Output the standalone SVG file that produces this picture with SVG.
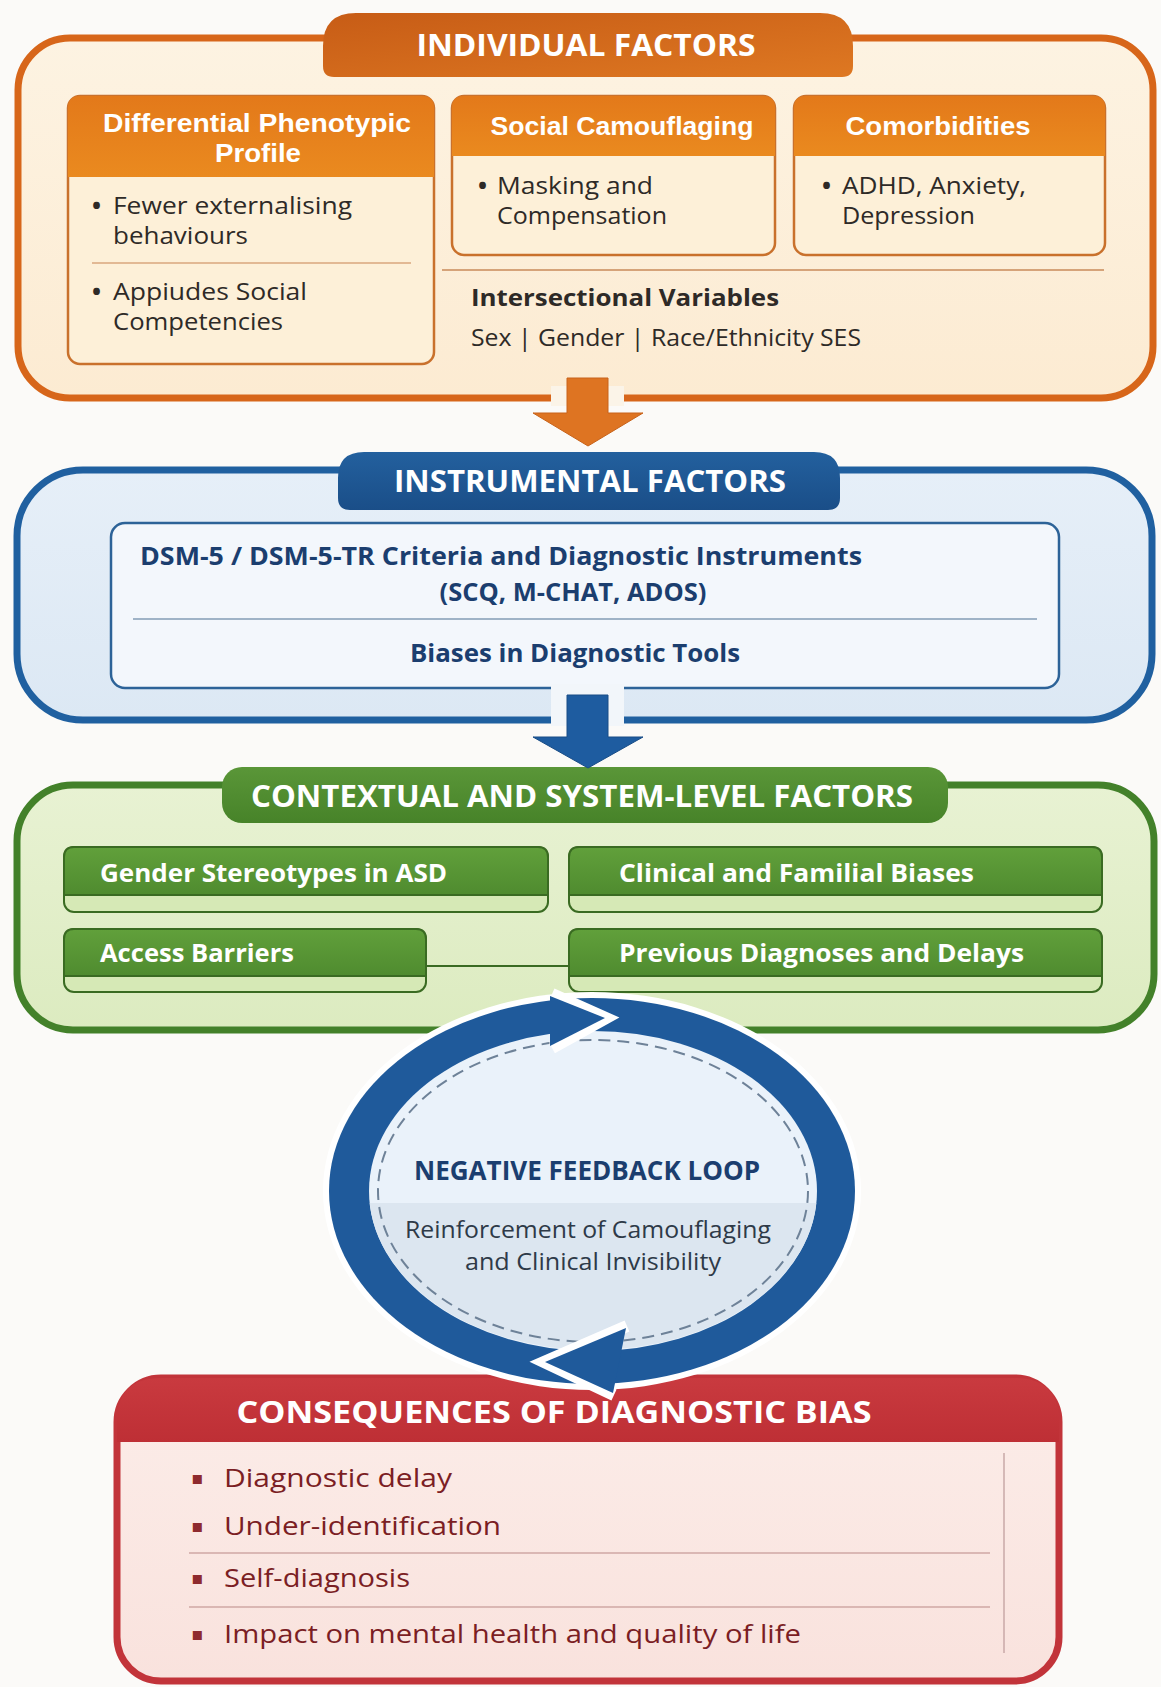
<svg xmlns="http://www.w3.org/2000/svg" width="1161" height="1687" viewBox="0 0 1161 1687">
<defs>
<style>
text{font-family:"Open Sans","Noto Sans","Liberation Sans",sans-serif;}
.b{font-weight:700;}
.tabT{font-weight:700;font-size:30px;fill:#FFFFFF;}
.subH{font-family:"Liberation Sans",Arial,sans-serif;font-weight:700;font-size:26px;fill:#FFFFFF;}
.body{font-size:24px;fill:#2E2A27;}
.dot{font-weight:700;fill:#2E2A27;}
.blueT{font-weight:700;font-size:25px;fill:#1B3E6F;}
.grnT{font-weight:700;font-size:25px;fill:#FFFFFF;}
.redT{font-size:26px;fill:#7B1E24;}
.bul{font-family:"DejaVu Sans",sans-serif;font-size:18px;fill:#8E2A2E;}
</style>
<linearGradient id="gOrTab" x1="0" y1="0" x2="1" y2="1"><stop offset="0" stop-color="#C75C16"/><stop offset="1" stop-color="#DE7822"/></linearGradient>
<linearGradient id="gOrSub" x1="0" y1="0" x2="0" y2="1"><stop offset="0" stop-color="#E3791A"/><stop offset="1" stop-color="#EA8A1F"/></linearGradient>
<linearGradient id="gOrFill" x1="0" y1="0" x2="0" y2="1"><stop offset="0" stop-color="#FDF3E2"/><stop offset="1" stop-color="#FCEBD2"/></linearGradient>
<linearGradient id="gBlTab" x1="0" y1="0" x2="0" y2="1"><stop offset="0" stop-color="#23609E"/><stop offset="1" stop-color="#1A4E88"/></linearGradient>
<linearGradient id="gBlFill" x1="0" y1="0" x2="0" y2="1"><stop offset="0" stop-color="#E6EFF8"/><stop offset="1" stop-color="#DCE8F4"/></linearGradient>
<linearGradient id="gGrTab" x1="0" y1="0" x2="0" y2="1"><stop offset="0" stop-color="#5A9638"/><stop offset="1" stop-color="#478329"/></linearGradient>
<linearGradient id="gGrFill" x1="0" y1="0" x2="0" y2="1"><stop offset="0" stop-color="#E8F2D3"/><stop offset="1" stop-color="#DCEBC0"/></linearGradient>
<linearGradient id="gGrSub" x1="0" y1="0" x2="0" y2="1"><stop offset="0" stop-color="#61A03B"/><stop offset="1" stop-color="#4F8B2F"/></linearGradient>
<linearGradient id="gRed" x1="0" y1="0" x2="0" y2="1"><stop offset="0" stop-color="#C93A3F"/><stop offset="1" stop-color="#BE2F35"/></linearGradient>
<linearGradient id="gRedFill" x1="0" y1="0" x2="0" y2="1"><stop offset="0" stop-color="#FCEDE9"/><stop offset="1" stop-color="#F9E2DD"/></linearGradient>
<clipPath id="clipInner"><ellipse cx="593" cy="1191" rx="224" ry="159"/></clipPath>
</defs>
<rect x="0" y="0" width="1161" height="1687" fill="#FBFAF8"/>

<!-- INDIVIDUAL FACTORS -->
<g id="individual-factors">
<rect x="18" y="38" width="1135" height="360" rx="52" fill="url(#gOrFill)" stroke="#D7661A" stroke-width="7"/>
<path d="M323,77 L323,46 Q323,13 356,13 L820,13 Q853,13 853,46 L853,66 Q853,77 842,77 L334,77 Q323,77 323,66 Z" fill="url(#gOrTab)"/>
<text class="tabT" x="586" y="56" text-anchor="middle" textLength="339" lengthAdjust="spacingAndGlyphs">INDIVIDUAL FACTORS</text>
</g>

<g id="differential-phenotypic-profile">
<rect x="68" y="96" width="366" height="268" rx="12" fill="#FDF0D8" stroke="#C9712C" stroke-width="2.5"/>
<path d="M68,177 L68,108 Q68,96 80,96 L422,96 Q434,96 434,108 L434,177 Z" fill="url(#gOrSub)"/>
<text class="subH" x="257" y="132" text-anchor="middle" textLength="308" lengthAdjust="spacingAndGlyphs">Differential Phenotypic</text>
<text class="subH" x="258" y="162" text-anchor="middle" textLength="86" lengthAdjust="spacingAndGlyphs">Profile</text>
<text class="body"><tspan class="dot" x="92" y="214">•</tspan><tspan x="113" y="214" textLength="239" lengthAdjust="spacingAndGlyphs">Fewer externalising</tspan></text>
<text class="body" x="113" y="244" textLength="135" lengthAdjust="spacingAndGlyphs">behaviours</text>
<line x1="92" y1="263" x2="411" y2="263" stroke="#D9A77E" stroke-width="1.5"/>
<text class="body"><tspan class="dot" x="92" y="300">•</tspan><tspan x="113" y="300" textLength="194" lengthAdjust="spacingAndGlyphs">Appiudes Social</tspan></text>
<text class="body" x="113" y="330" textLength="170" lengthAdjust="spacingAndGlyphs">Competencies</text>
</g>

<g id="social-camouflaging">
<rect x="452" y="96" width="323" height="159" rx="12" fill="#FDF0D8" stroke="#C9712C" stroke-width="2.5"/>
<path d="M452,156 L452,108 Q452,96 464,96 L763,96 Q775,96 775,108 L775,156 Z" fill="url(#gOrSub)"/>
<text class="subH" x="622" y="135" text-anchor="middle" textLength="263" lengthAdjust="spacingAndGlyphs">Social Camouflaging</text>
<text class="body"><tspan class="dot" x="478" y="194">•</tspan><tspan x="497" y="194" textLength="156" lengthAdjust="spacingAndGlyphs">Masking and</tspan></text>
<text class="body" x="497" y="224" textLength="170" lengthAdjust="spacingAndGlyphs">Compensation</text>
</g>

<g id="comorbidities">
<rect x="794" y="96" width="311" height="159" rx="12" fill="#FDF0D8" stroke="#C9712C" stroke-width="2.5"/>
<path d="M794,156 L794,108 Q794,96 806,96 L1093,96 Q1105,96 1105,108 L1105,156 Z" fill="url(#gOrSub)"/>
<text class="subH" x="938" y="135" text-anchor="middle" textLength="185" lengthAdjust="spacingAndGlyphs">Comorbidities</text>
<text class="body"><tspan class="dot" x="822" y="194">•</tspan><tspan x="842" y="194" textLength="184" lengthAdjust="spacingAndGlyphs">ADHD, Anxiety,</tspan></text>
<text class="body" x="842" y="224" textLength="133" lengthAdjust="spacingAndGlyphs">Depression</text>
</g>

<g id="intersectional-variables">
<line x1="442" y1="270" x2="1104" y2="270" stroke="#C98A5A" stroke-width="1.5"/>
<text class="body b" x="471" y="306" textLength="308" lengthAdjust="spacingAndGlyphs" fill="#333">Intersectional Variables</text>
<text class="body" x="471" y="346" font-size="23" textLength="390" lengthAdjust="spacingAndGlyphs">Sex | Gender | Race/Ethnicity SES</text>
</g>

<!-- INSTRUMENTAL FACTORS -->
<g id="instrumental-factors">
<rect x="17" y="470" width="1135" height="250" rx="66" fill="url(#gBlFill)" stroke="#2060A0" stroke-width="7"/>
<path d="M338,510 L338,478 Q338,452 364,452 L814,452 Q840,452 840,478 L840,498 Q840,510 828,510 L350,510 Q338,510 338,498 Z" fill="url(#gBlTab)"/>
<text class="tabT" x="590" y="492" text-anchor="middle" textLength="392" lengthAdjust="spacingAndGlyphs">INSTRUMENTAL FACTORS</text>
<rect x="111" y="523" width="948" height="165" rx="14" fill="#F3F7FC" stroke="#2D6398" stroke-width="2.5"/>
<text class="blueT" x="140" y="565" textLength="722" lengthAdjust="spacingAndGlyphs">DSM-5 / DSM-5-TR Criteria and Diagnostic Instruments</text>
<text class="blueT" x="573" y="601" text-anchor="middle" textLength="267" lengthAdjust="spacingAndGlyphs">(SCQ, M-CHAT, ADOS)</text>
<line x1="133" y1="619" x2="1037" y2="619" stroke="#9FB3C7" stroke-width="2"/>
<text class="blueT" x="575" y="662" text-anchor="middle" textLength="330" lengthAdjust="spacingAndGlyphs">Biases in Diagnostic Tools</text>
</g>

<!-- CONTEXTUAL AND SYSTEM-LEVEL FACTORS -->
<g id="contextual-factors">
<rect x="17" y="785" width="1137" height="245" rx="56" fill="url(#gGrFill)" stroke="#43812A" stroke-width="7"/>
<rect x="222" y="767" width="726" height="56" rx="20" fill="url(#gGrTab)"/>
<text class="tabT" x="582" y="807" text-anchor="middle" textLength="662" lengthAdjust="spacingAndGlyphs">CONTEXTUAL AND SYSTEM-LEVEL FACTORS</text>
</g>

<g id="gender-stereotypes">
<rect x="64" y="847" width="484" height="65" rx="10" fill="#D6E9B6" stroke="#3A6B22" stroke-width="2"/>
<path d="M64,895 L64,857 Q64,847 74,847 L538,847 Q548,847 548,857 L548,895 Z" fill="url(#gGrSub)" stroke="#3A6B22" stroke-width="2"/>
<text class="grnT" x="100" y="882" textLength="347" lengthAdjust="spacingAndGlyphs">Gender Stereotypes in ASD</text>
</g>
<g id="clinical-familial-biases">
<rect x="569" y="847" width="533" height="65" rx="10" fill="#D6E9B6" stroke="#3A6B22" stroke-width="2"/>
<path d="M569,895 L569,857 Q569,847 579,847 L1092,847 Q1102,847 1102,857 L1102,895 Z" fill="url(#gGrSub)" stroke="#3A6B22" stroke-width="2"/>
<text class="grnT" x="619" y="882" textLength="355" lengthAdjust="spacingAndGlyphs">Clinical and Familial Biases</text>
</g>
<g id="access-barriers">
<rect x="64" y="929" width="362" height="63" rx="10" fill="#D6E9B6" stroke="#3A6B22" stroke-width="2"/>
<path d="M64,976 L64,939 Q64,929 74,929 L416,929 Q426,929 426,939 L426,976 Z" fill="url(#gGrSub)" stroke="#3A6B22" stroke-width="2"/>
<text class="grnT" x="100" y="962" textLength="194" lengthAdjust="spacingAndGlyphs">Access Barriers</text>
</g>
<g id="previous-diagnoses">
<rect x="569" y="929" width="533" height="63" rx="10" fill="#D6E9B6" stroke="#3A6B22" stroke-width="2"/>
<path d="M569,976 L569,939 Q569,929 579,929 L1092,929 Q1102,929 1102,939 L1102,976 Z" fill="url(#gGrSub)" stroke="#3A6B22" stroke-width="2"/>
<text class="grnT" x="619" y="962" textLength="405" lengthAdjust="spacingAndGlyphs">Previous Diagnoses and Delays</text>
</g>

<!-- CONSEQUENCES -->
<g id="consequences">
<rect x="117" y="1378" width="942" height="303" rx="44" fill="url(#gRedFill)" stroke="#C2343A" stroke-width="7"/>
<path d="M117,1442 L117,1422 Q117,1378 161,1378 L1015,1378 Q1059,1378 1059,1422 L1059,1442 Z" fill="url(#gRed)"/>
<text class="tabT" x="554" y="1423" text-anchor="middle" textLength="635" lengthAdjust="spacingAndGlyphs">CONSEQUENCES OF DIAGNOSTIC BIAS</text>
<line x1="1004" y1="1453" x2="1004" y2="1653" stroke="#C9A9A7" stroke-width="1.5"/>
<text class="bul" x="191" y="1484">▪</text>
<text class="redT" x="224" y="1487" textLength="228" lengthAdjust="spacingAndGlyphs">Diagnostic delay</text>
<text class="bul" x="191" y="1532">▪</text>
<text class="redT" x="224" y="1535" textLength="277" lengthAdjust="spacingAndGlyphs">Under-identification</text>
<line x1="189" y1="1553" x2="990" y2="1553" stroke="#CFA7A5" stroke-width="1.5"/>
<text class="bul" x="191" y="1584">▪</text>
<text class="redT" x="224" y="1587" textLength="186" lengthAdjust="spacingAndGlyphs">Self-diagnosis</text>
<line x1="189" y1="1607" x2="990" y2="1607" stroke="#CFA7A5" stroke-width="1.5"/>
<text class="bul" x="191" y="1640">▪</text>
<text class="redT" x="224" y="1643" textLength="577" lengthAdjust="spacingAndGlyphs">Impact on mental health and quality of life</text>
</g>

<!-- NEGATIVE FEEDBACK LOOP -->
<g id="negative-feedback-loop">
<ellipse cx="592" cy="1191" rx="269" ry="199" fill="#FFFFFF"/>
<ellipse cx="592" cy="1191" rx="263" ry="193" fill="#1F5A9B"/>
<ellipse cx="593" cy="1191" rx="224" ry="160" fill="#EAF2FA"/>
<rect x="360" y="1203" width="470" height="160" fill="#DCE6F0" clip-path="url(#clipInner)"/>
<ellipse cx="593" cy="1191" rx="215" ry="151" fill="none" stroke="#6E8298" stroke-width="2" stroke-dasharray="12 7"/>
<polyline points="552,994 606,1018 552,1048" fill="none" stroke="#FFFFFF" stroke-width="12" stroke-linejoin="miter" stroke-miterlimit="10"/>
<polygon points="550,996 605,1018 550,1046" fill="#1F5A9B"/>
<polyline points="627,1326 544,1362 614,1395" fill="none" stroke="#FFFFFF" stroke-width="12" stroke-linejoin="miter" stroke-miterlimit="10"/>
<polygon points="545,1362 626,1328 613,1393" fill="#1F5A9B"/>
<text class="b" x="587" y="1180" text-anchor="middle" font-size="26" fill="#1B3E6F" textLength="346" lengthAdjust="spacingAndGlyphs">NEGATIVE FEEDBACK LOOP</text>
<text x="588" y="1238" text-anchor="middle" font-size="23" fill="#2E3A48" textLength="366" lengthAdjust="spacingAndGlyphs">Reinforcement of Camouflaging</text>
<text x="593" y="1270" text-anchor="middle" font-size="23" fill="#2E3A48" textLength="256" lengthAdjust="spacingAndGlyphs">and Clinical Invisibility</text>
</g>

<!-- CONNECTORS -->
<g id="connectors">
<rect x="551" y="386" width="73" height="20" fill="#FBF4E8"/>
<polygon points="567,378 608,378 608,413 643,413 588,446 533,413 567,413" fill="#DE7422" stroke="#C8631A" stroke-width="1"/>
<rect x="551" y="684" width="73" height="42" fill="#F2F6FA"/>
<polygon points="567,695 608,695 608,737 643,737 588,768 533,737 567,737" fill="#1E5CA0" stroke="#184C86" stroke-width="1"/>
<line x1="426" y1="966" x2="569" y2="966" stroke="#3A6B22" stroke-width="2"/>
</g>
</svg>
